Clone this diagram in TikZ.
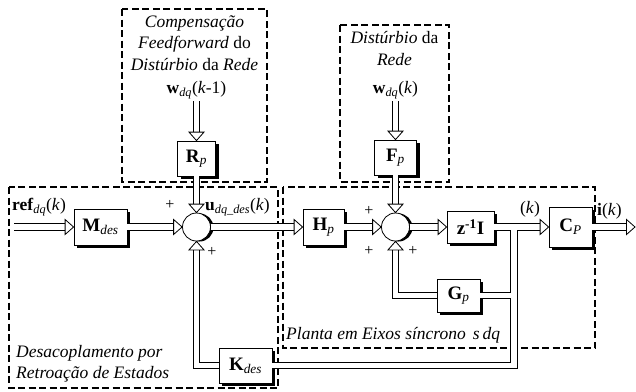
\documentclass[tikz,border=0pt]{standalone}
\usepackage{fontspec}
\setmainfont{Liberation Serif}
\usetikzlibrary{shadows}

\newcommand{\lblfont}{\fontsize{17.5}{21.5}\selectfont}
\newcommand{\blkfont}{\fontsize{19}{22}\selectfont}

\tikzset{
  x=1pt, y=-1pt,
  blk/.style={draw, line width=0.8pt, fill=white, inner sep=0pt,
    font=\blkfont,
    drop shadow={shadow xshift=3pt, shadow yshift=-3pt, opacity=1, fill=black}},
  sumjn/.style={circle, draw, line width=0.8pt, fill=white, minimum size=28pt, inner sep=0pt,
    drop shadow={shadow xshift=3pt, shadow yshift=-0.5pt, opacity=1, fill=black}},
  sig/.style={line width=0.8pt, double=white, double distance=5.5pt},
  sigtip/.style={sig, shorten >=8pt},
  grp/.style={draw, line width=1.6pt, dash pattern=on 7pt off 3.5pt},
  lbl/.style={font=\lblfont, inner sep=0pt},
  pls/.style={font=\fontsize{16}{16}\selectfont, inner sep=0pt},
  % open arrowhead for the double signal lines, tip at the origin, pointing along +x
  ahd/.pic={\draw[line width=0.8pt, fill=white, line join=miter] (0,0) -- (-8.5,-7.5) -- (-8.5,7.5) -- cycle;},
}
% \sigend{point}{angle}: arrowhead at the end of a signal line
\newcommand{\sigend}[2]{\pic[rotate=#2] at (#1) {ahd};}

\begin{document}
\begin{tikzpicture}
\useasboundingbox (0,0) rectangle (636,391);

% dashed group frames
\draw[grp] (9,187) rectangle (278,388);
\draw[grp] (283,187) rectangle (595,348);
\draw[grp] (122,9) rectangle (267,182);
\draw[grp] (340,25) rectangle (449,182);

% blocks
\node[blk, minimum width=53pt, minimum height=36pt] (Mdes) at (100.5,227) {\textbf{M}\textsubscript{\textit{des}}};
\node[sumjn] (s1) at (196.5,227) {};
\node[blk, minimum width=38pt, minimum height=35pt] (Rp) at (196.5,158.5) {\textbf{R}\textsubscript{\textit{p}}};
\node[blk, minimum width=53pt, minimum height=35pt] (Kdes) at (245.5,365.5) {\textbf{K}\textsubscript{\textit{des}}};
\node[blk, minimum width=41pt, minimum height=36pt] (Hp) at (323.5,227) {\textbf{H}\textsubscript{\textit{p}}};
\node[sumjn] (s2) at (395.5,227) {};
\node[blk, minimum width=42pt, minimum height=35pt] (Fp) at (395.5,157.5) {\textbf{F}\textsubscript{\textit{p}}};
\node[blk, minimum width=47pt, minimum height=32pt] (zI) at (470.5,227) {\textbf{z\textsuperscript{-1}I}};
\node[blk, minimum width=43pt, minimum height=40pt] (Cp) at (570.5,227) {\textbf{C}\textsubscript{\textit{P}}};
\node[blk, minimum width=43pt, minimum height=33pt] (Gp) at (458.5,295.5) {\textbf{G}\textsubscript{\textit{p}}};

% signal labels
\node[lbl, anchor=west] (ref) at (12,207) {\textbf{ref}\textsubscript{\textit{dq}}(\textit{k})};
\node[lbl] (wk1) at (196.5,90) {\textbf{w}\textsubscript{\textit{dq}}(\textit{k}-1)};
\node[lbl] (wk) at (395.5,90) {\textbf{w}\textsubscript{\textit{dq}}(\textit{k})};
\node[lbl, anchor=west] (ulbl) at (205,207) {\textbf{u}\textsubscript{\textit{dq\_des}}(\textit{k})};
\node[lbl] (klbl) at (530,209) {(\textit{k})};
\node[lbl, anchor=west] (ilbl) at (597,211) {\textbf{i}(\textit{k})};

% signs at the summing junctions
\node[pls] (p1) at (170,205) {+};
\node[pls] (p2) at (212,252) {+};
\node[pls] (p3) at (369,211) {+};
\node[pls] (p4) at (369,251) {+};
\node[pls] (p5) at (413,251) {+};

% group captions
\node[lbl, align=center] (tcomp) at (194.5,43) {\textit{Compensação}\\\textit{Feedforward} do\\\textit{Distúrbio} da \textit{Rede}};
\node[lbl, align=center] (tdist) at (394.5,48.5) {\textit{Distúrbio} da\\\textit{Rede}};
\node[lbl, align=left, anchor=west] (tdes) at (16,363.5) {\textit{Desacoplamento por}\\\textit{Retroação de Estados}};
\node[lbl, anchor=west] (tpl) at (286,335) {\textit{Planta em Eixos síncrono\hspace{7pt}s\hspace{3pt}dq}};

% connection points
\coordinate (in) at (14,227);
\coordinate (out) at (635,227);
\coordinate (br) at (514,227);
\coordinate (w1top) at (196.5,101);
\coordinate (wtop) at (395.5,101);

% signal paths
\draw[sigtip] (in) -- (Mdes.west);                  \sigend{Mdes.west}{0}
\draw[sigtip] (Mdes.east) -- (s1.west);             \sigend{s1.west}{0}
\draw[sigtip] (w1top) -- (Rp.north);                \sigend{Rp.north}{-90}
\draw[sigtip] (Rp.south) -- (s1.north);             \sigend{s1.north}{-90}
\draw[sigtip] (Kdes.west) -| (s1.south);            \sigend{s1.south}{90}
\draw[sigtip] (s1.east) -- (Hp.west);               \sigend{Hp.west}{0}
\draw[sigtip] (Hp.east) -- (s2.west);               \sigend{s2.west}{0}
\draw[sigtip] (wtop) -- (Fp.north);                 \sigend{Fp.north}{-90}
\draw[sigtip] (Fp.south) -- (s2.north);             \sigend{s2.north}{-90}
\draw[sigtip] (s2.east) -- (zI.west);               \sigend{zI.west}{0}
\draw[sigtip] (Gp.west) -| (s2.south);              \sigend{s2.south}{90}
\draw[sigtip] (Gp.east) -- (Gp.east -| br) (Kdes.east) -| (br) (zI.east) -- (Cp.west);
\sigend{Cp.west}{0}
\draw[sigtip] (Cp.east) -- (out);                   \sigend{out}{0}
\end{tikzpicture}
\end{document}
